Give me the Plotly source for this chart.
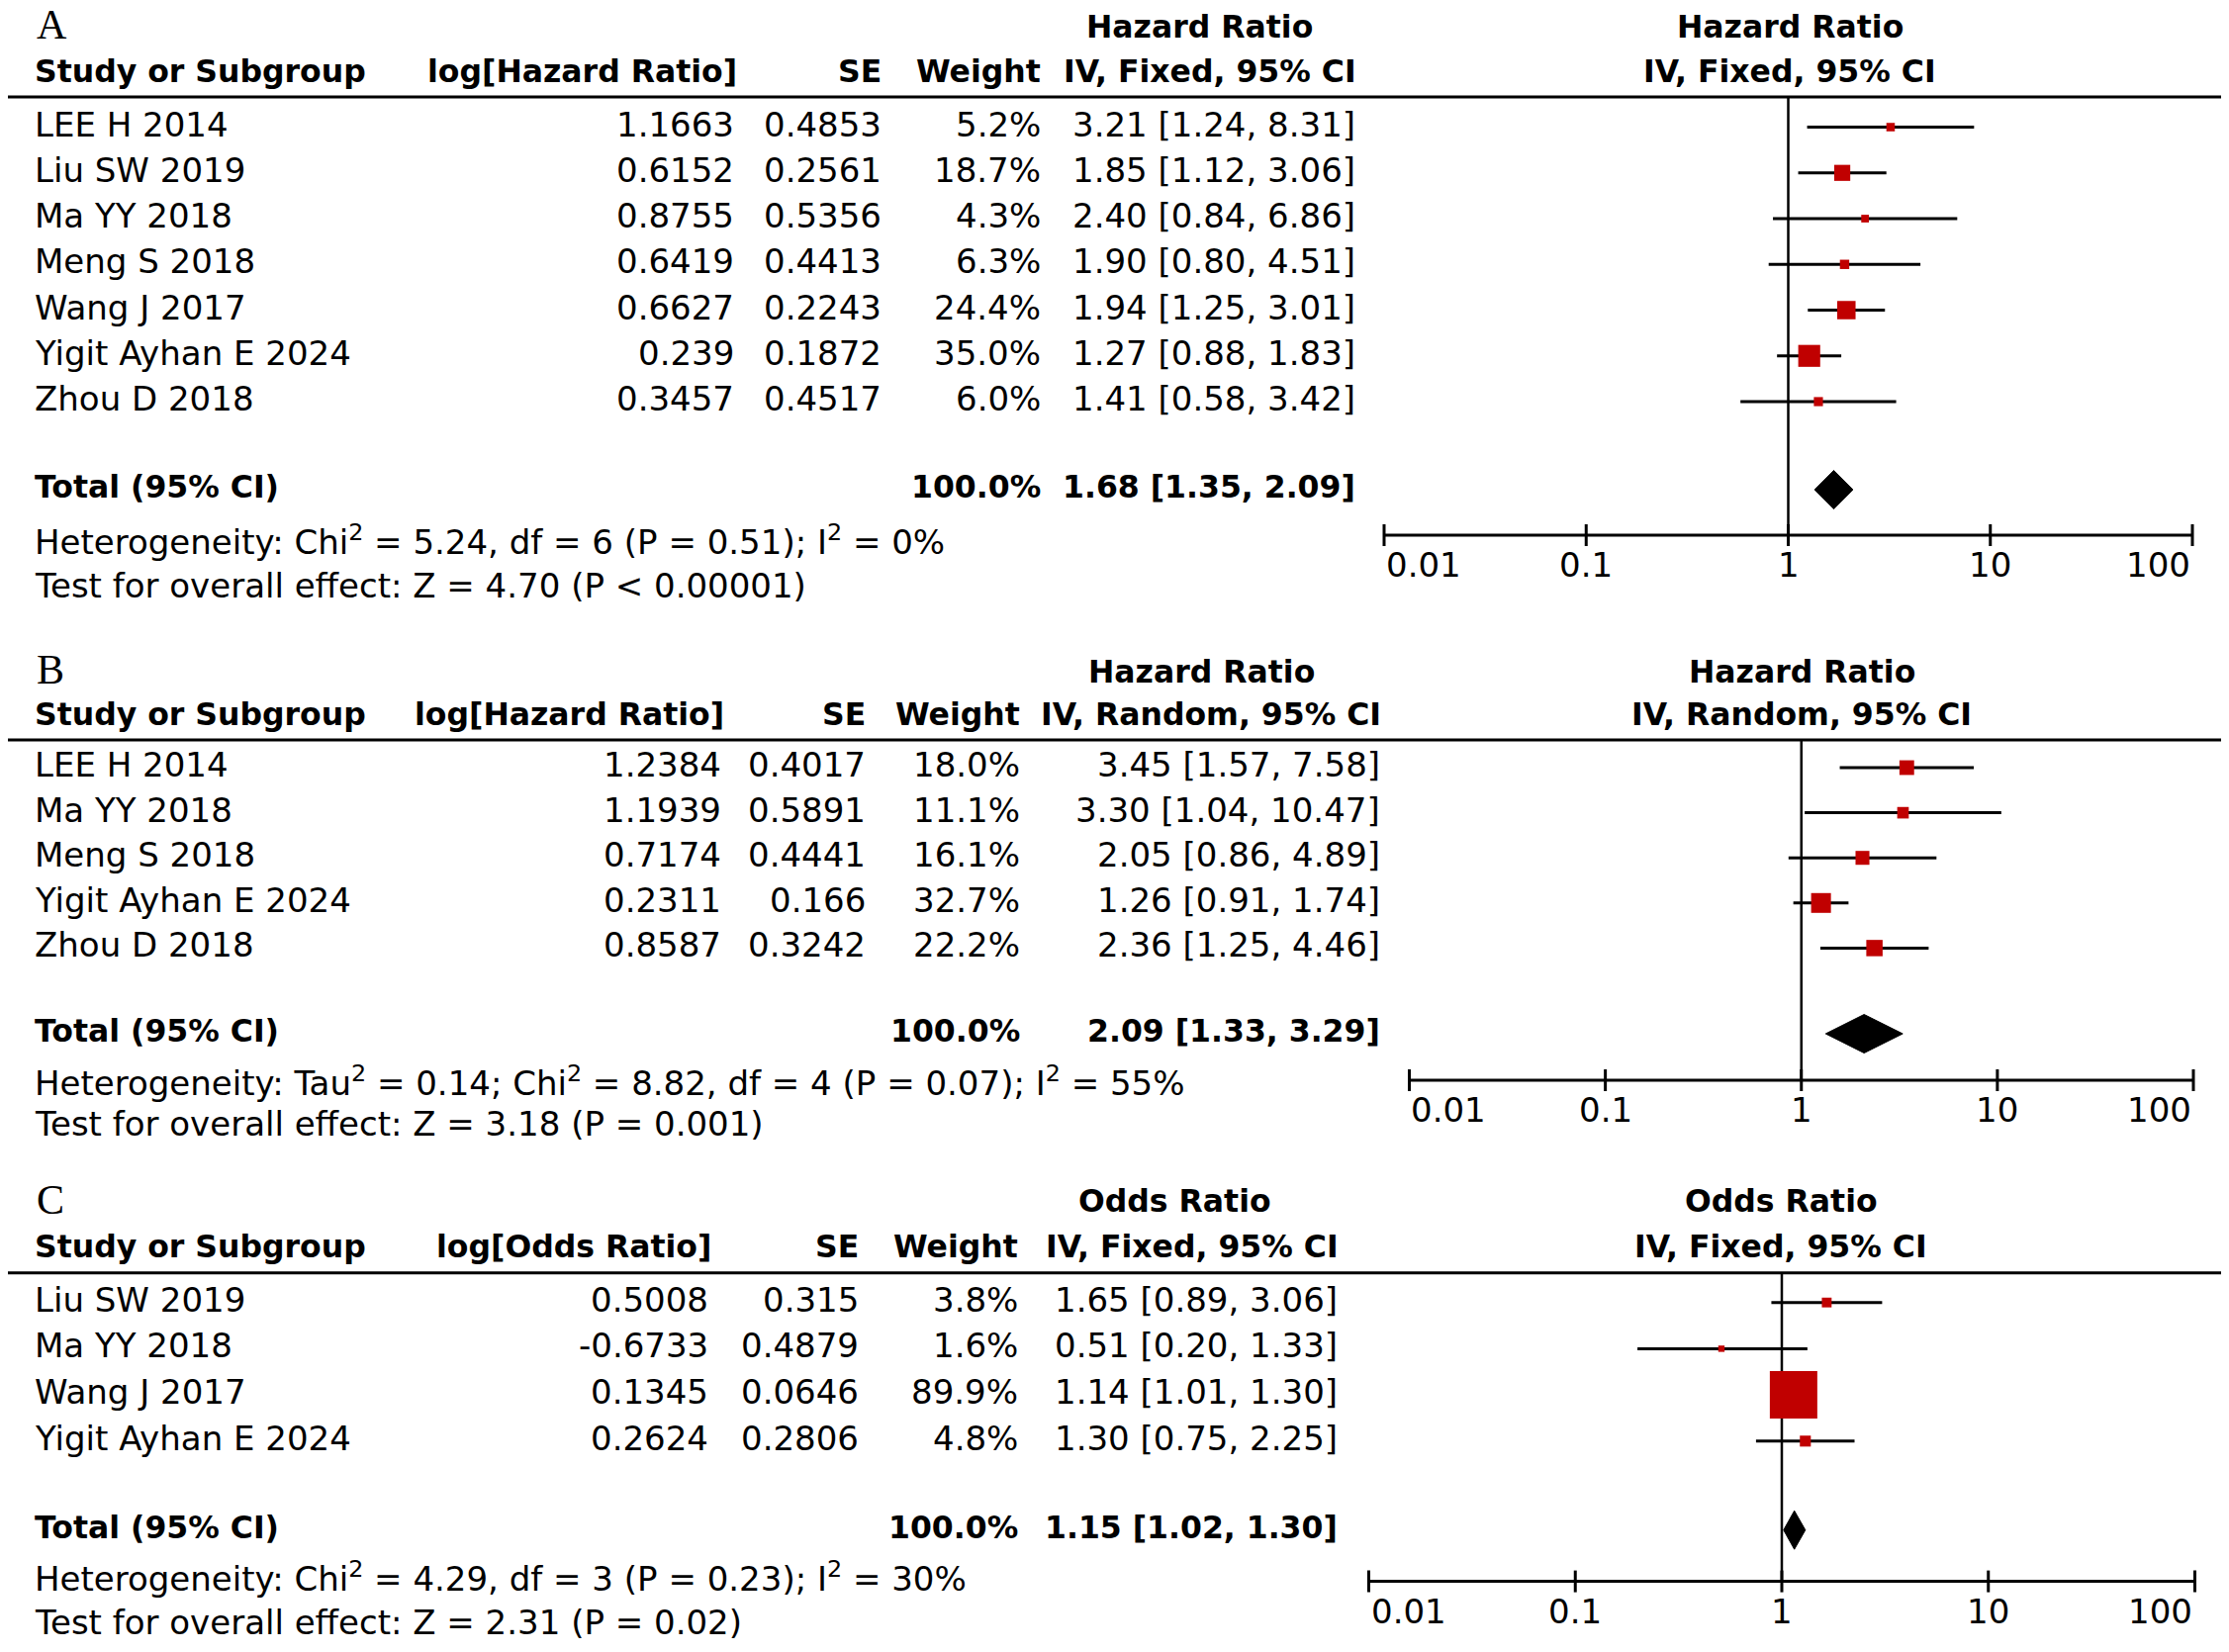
import math
import plotly.graph_objects as go

W, H = 2253, 1670
OFF = 8             # the page body margin: the figure starts 8 px in
FW, FH = W - OFF, H - OFF

# ---- data: panel A (hazard ratio, fixed) ----
a_studies = ["LEE H 2014", "Liu SW 2019", "Ma YY 2018", "Meng S 2018",
             "Wang J 2017", "Yigit Ayhan E 2024", "Zhou D 2018"]
a_log = [1.1663, 0.6152, 0.8755, 0.6419, 0.6627, 0.239, 0.3457]
a_se = [0.4853, 0.2561, 0.5356, 0.4413, 0.2243, 0.1872, 0.4517]
a_weight = [5.2, 18.7, 4.3, 6.3, 24.4, 35.0, 6.0]
a_est = [3.21, 1.85, 2.40, 1.90, 1.94, 1.27, 1.41]
a_lo = [1.24, 1.12, 0.84, 0.80, 1.25, 0.88, 0.58]
a_hi = [8.31, 3.06, 6.86, 4.51, 3.01, 1.83, 3.42]
a_total = [1.68, 1.35, 2.09]
a_het = "Heterogeneity: Chi<sup>2</sup> = 5.24, df = 6 (P = 0.51); I<sup>2</sup> = 0%"
a_test = "Test for overall effect: Z = 4.70 (P &lt; 0.00001)"

# ---- data: panel B (hazard ratio, random) ----
b_studies = ["LEE H 2014", "Ma YY 2018", "Meng S 2018", "Yigit Ayhan E 2024", "Zhou D 2018"]
b_log = [1.2384, 1.1939, 0.7174, 0.2311, 0.8587]
b_se = [0.4017, 0.5891, 0.4441, 0.166, 0.3242]
b_weight = [18.0, 11.1, 16.1, 32.7, 22.2]
b_est = [3.45, 3.30, 2.05, 1.26, 2.36]
b_lo = [1.57, 1.04, 0.86, 0.91, 1.25]
b_hi = [7.58, 10.47, 4.89, 1.74, 4.46]
b_total = [2.09, 1.33, 3.29]
b_het = ("Heterogeneity: Tau<sup>2</sup> = 0.14; Chi<sup>2</sup> = 8.82, df = 4 (P = 0.07); "
         "I<sup>2</sup> = 55%")
b_test = "Test for overall effect: Z = 3.18 (P = 0.001)"

# ---- data: panel C (odds ratio, fixed) ----
c_studies = ["Liu SW 2019", "Ma YY 2018", "Wang J 2017", "Yigit Ayhan E 2024"]
c_log = [0.5008, -0.6733, 0.1345, 0.2624]
c_se = [0.315, 0.4879, 0.0646, 0.2806]
c_weight = [3.8, 1.6, 89.9, 4.8]
c_est = [1.65, 0.51, 1.14, 1.30]
c_lo = [0.89, 0.20, 1.01, 0.75]
c_hi = [3.06, 1.33, 1.30, 2.25]
c_total = [1.15, 1.02, 1.30]
c_het = "Heterogeneity: Chi<sup>2</sup> = 4.29, df = 3 (P = 0.23); I<sup>2</sup> = 30%"
c_test = "Test for overall effect: Z = 2.31 (P = 0.02)"

tick_vals = [0.01, 0.1, 1, 10, 100]
tick_text = ["0.01", "0.1", "1", "10", "100"]

# ---- layout of each panel, in screen pixels ----
panels = [
    dict(letter="A", measure="Hazard Ratio", method="IV, Fixed, 95% CI", logname="log[Hazard Ratio]",
         studies=a_studies, log=a_log, se=a_se, weight=a_weight, est=a_est, lo=a_lo, hi=a_hi,
         total=a_total, het=a_het, test=a_test,
         top=OFF, bottom=625, row0=128.5, step=46.25, x0=1399, x1=2216,
         c_log=744, c_se=893, c_w=1054, c_ci=1372, head_c=1212, right_c=1809,
         y_letter=25, y_h1=30, y_h2=75, y_line=98, y_total=495, y_axis=541, y_het=549, y_test=595,
         box_k=3.75),
    dict(letter="B", measure="Hazard Ratio", method="IV, Random, 95% CI", logname="log[Hazard Ratio]",
         studies=b_studies, log=b_log, se=b_se, weight=b_weight, est=b_est, lo=b_lo, hi=b_hi,
         total=b_total, het=b_het, test=b_test,
         top=625, bottom=1185, row0=776, step=45.6, x0=1424.5, x1=2217,
         c_log=731, c_se=877, c_w=1033, c_ci=1397, head_c=1214, right_c=1821,
         y_letter=677, y_h1=681.5, y_h2=724.6, y_line=748, y_total=1045, y_axis=1092, y_het=1096, y_test=1139,
         box_k=3.5),
    dict(letter="C", measure="Odds Ratio", method="IV, Fixed, 95% CI", logname="log[Odds Ratio]",
         studies=c_studies, log=c_log, se=c_se, weight=c_weight, est=c_est, lo=c_lo, hi=c_hi,
         total=c_total, het=c_het, test=c_test,
         top=1185, bottom=H, row0=1316.7, step=46.7, x0=1383.5, x1=2218.5,
         c_log=718, c_se=870, c_w=1031, c_ci=1354, head_c=1187.5, right_c=1800,
         y_letter=1213, y_h1=1216.7, y_h2=1263, y_line=1286.7, y_total=1546.7, y_axis=1598.6, y_het=1596.7,
         y_test=1643, box_k=5.06),
]

FONT = "DejaVu Sans"
REG = 34
BOLD = 31.5
RED = "#c00000"
PAD = 0.1      # decades of slack on each side of the log axis
LIFT = 3       # table text sits a little higher than its box centre
NAME_X = 33


def px_x(px):
    return (px - OFF) / FW


def px_y(py):
    return 1 - (py - OFF) / FH


fig = go.Figure()
annotations = []
shapes = []
layout = {}

for i, p in enumerate(panels):
    sfx = "" if i == 0 else str(i + 1)
    xref, yref = "x" + sfx, "y" + sfx

    def row(py, p=p):
        return (py - p["row0"]) / p["step"]

    dec = (p["x1"] - p["x0"]) / 4
    layout["xaxis" + sfx] = dict(type="log", range=[-2 - PAD, 2 + PAD],
                                 domain=[px_x(p["x0"] - PAD * dec), px_x(p["x1"] + PAD * dec)],
                                 anchor=yref, visible=False, fixedrange=True)
    layout["yaxis" + sfx] = dict(range=[row(p["bottom"]), row(p["top"])],
                                 domain=[max(0, px_y(p["bottom"])), min(1, px_y(p["top"]))],
                                 anchor=xref, visible=False, fixedrange=True)

    rows = list(range(len(p["studies"])))
    r_line, r_axis, r_total = row(p["y_line"]), row(p["y_axis"]), row(p["y_total"])

    # null line
    fig.add_trace(go.Scatter(x=[1, 1], y=[r_line, r_axis], mode="lines",
                             line=dict(color="black", width=2.5), xaxis=xref, yaxis=yref,
                             showlegend=False, hoverinfo="skip"))
    # confidence intervals
    cx, cy = [], []
    for r, lo, hi in zip(rows, p["lo"], p["hi"]):
        cx += [lo, hi, None]
        cy += [r, r, None]
    fig.add_trace(go.Scatter(x=cx, y=cy, mode="lines", line=dict(color="black", width=3),
                             xaxis=xref, yaxis=yref, showlegend=False, hoverinfo="skip"))
    # weighted squares
    fig.add_trace(go.Scatter(x=p["est"], y=rows, mode="markers",
                             marker=dict(symbol="square", color=RED, opacity=1, line=dict(width=0),
                                         size=[p["box_k"] * math.sqrt(w) for w in p["weight"]]),
                             xaxis=xref, yaxis=yref, showlegend=False, cliponaxis=False,
                             text=p["studies"], hovertemplate="%{text}: %{x}<extra></extra>"))
    # pooled diamond
    est, lo, hi = p["total"]
    h = 19.5 / p["step"]
    fig.add_trace(go.Scatter(x=[lo, est, hi, est, lo], y=[r_total, r_total - h, r_total, r_total + h, r_total],
                             mode="lines", fill="toself", fillcolor="black",
                             line=dict(color="black", width=1), xaxis=xref, yaxis=yref,
                             showlegend=False, hoverinfo="skip"))
    # axis line and ticks
    tk = 11 / p["step"]
    ax_x = [tick_vals[0], tick_vals[-1], None]
    ax_y = [r_axis, r_axis, None]
    for t in tick_vals:
        ax_x += [t, t, None]
        ax_y += [r_axis - tk, r_axis + tk, None]
    fig.add_trace(go.Scatter(x=ax_x, y=ax_y, mode="lines", line=dict(color="black", width=3),
                             xaxis=xref, yaxis=yref, showlegend=False, hoverinfo="skip"))
    for j, (t, lab) in enumerate(zip(tick_vals, tick_text)):
        anchor = "left" if j == 0 else ("right" if j == len(tick_vals) - 1 else "center")
        annotations.append(dict(x=math.log10(t), y=row(p["y_axis"] + 30), xref=xref, yref=yref,
                                text=lab, showarrow=False, xanchor=anchor, yanchor="middle",
                                font=dict(family=FONT, size=REG, color="black")))

    # header rule
    shapes.append(dict(type="line", xref="paper", yref=yref, x0=px_x(OFF), x1=px_x(2248),
                       y0=r_line, y1=r_line, line=dict(color="black", width=3)))

    def txt(x, py, s, anchor="left", bold=False, p=p):
        annotations.append(dict(x=px_x(x), y=(py - LIFT - p["row0"]) / p["step"], xref="paper", yref=yref,
                                text="<b>%s</b>" % s if bold else s, showarrow=False,
                                xanchor=anchor, yanchor="middle",
                                font=dict(family=FONT, size=BOLD if bold else REG, color="black")))

    # panel letter
    annotations.append(dict(x=px_x(35), y=row(p["y_letter"]), xref="paper", yref=yref, text=p["letter"],
                            showarrow=False, xanchor="left", yanchor="middle",
                            font=dict(family="Liberation Serif", size=42, color="black")))
    # headers
    txt(p["head_c"], p["y_h1"], p["measure"], "center", True)
    txt(p["right_c"], p["y_h1"], p["measure"], "center", True)
    txt(NAME_X, p["y_h2"], "Study or Subgroup", "left", True)
    txt(p["c_log"] + 3, p["y_h2"], p["logname"], "right", True)
    txt(p["c_se"], p["y_h2"], "SE", "right", True)
    txt(p["c_w"], p["y_h2"], "Weight", "right", True)
    txt(p["c_ci"] + 1, p["y_h2"], p["method"], "right", True)
    txt(p["right_c"], p["y_h2"], p["method"], "center", True)

    # study rows
    for r, name, lg, se, w, e, l, u in zip(rows, p["studies"], p["log"], p["se"], p["weight"],
                                          p["est"], p["lo"], p["hi"]):
        py = p["row0"] + r * p["step"]
        txt(NAME_X, py, name)
        txt(p["c_log"], py, str(lg), "right")
        txt(p["c_se"], py, str(se), "right")
        txt(p["c_w"], py, "%.1f%%" % w, "right")
        txt(p["c_ci"], py, "%.2f [%.2f, %.2f]" % (e, l, u), "right")

    # total and statistics
    txt(NAME_X, p["y_total"], "Total (95% CI)", "left", True)
    txt(p["c_w"], p["y_total"], "100.0%", "right", True)
    txt(p["c_ci"], p["y_total"], "%.2f [%.2f, %.2f]" % (est, lo, hi), "right", True)
    txt(NAME_X, p["y_het"], p["het"])
    txt(NAME_X, p["y_test"], p["test"])

fig.update_layout(
    width=FW, height=FH,
    margin=dict(l=0, r=0, t=0, b=0),
    paper_bgcolor="white", plot_bgcolor="white",
    showlegend=False,
    annotations=annotations,
    shapes=shapes,
    **layout
)

fig.write_html("out.html")
